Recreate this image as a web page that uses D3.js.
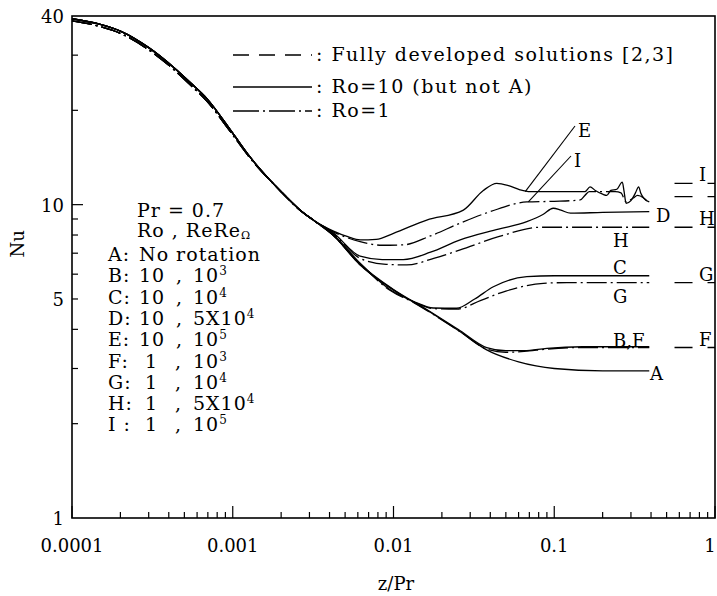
<!DOCTYPE html>
<html><head><meta charset="utf-8">
<script src="https://cdn.jsdelivr.net/npm/d3@7"></script>
<style>
body{margin:0;background:#fff}
text{font-family:"DejaVu Serif","Liberation Serif",serif;fill:#000}
</style></head>
<body><svg id="c" width="717" height="596"></svg>
<script>
// ---------- data ----------
const prefixZ  = [1e-4, 1.5e-4, 2e-4, 3e-4, 4.26e-4, 5.5e-4, 6.9e-4, 1e-3, 1.28e-3, 2e-3, 2.62e-3, 3.2e-3];
const prefixNuA = [39.2, 37.6, 35.8, 31.7, 27.5, 24.4, 21.8, 16.9, 14.2, 11.0, 9.62, 8.9];
const prefixNu  = [38.6, 37.0, 35.2, 31.2, 27.1, 24.0, 21.4, 16.7, 14.1, 11.0, 9.6, 8.9];

const zA  = [0.0042, 0.0062, 0.01, 0.0161, 0.026, 0.038, 0.06, 0.1, 0.2, 0.39];
const nuA = [8.0, 6.42, 5.34, 4.61, 3.93, 3.44, 3.15, 3.0, 2.95, 2.95];
const zB  = [0.0042, 0.0062, 0.01, 0.0161, 0.026, 0.038, 0.05, 0.065, 0.09, 0.15, 0.39];
const nuB = [8.0, 6.45, 5.36, 4.63, 3.96, 3.5, 3.42, 3.42, 3.48, 3.52, 3.52];
const zC  = [0.0042, 0.0062, 0.0095, 0.0135, 0.0177, 0.0247, 0.032, 0.0418, 0.0675, 0.1, 0.39];
const nuC = [8.05, 6.5, 5.36, 4.9, 4.68, 4.67, 5.0, 5.47, 5.89, 5.93, 5.93];
const zD  = [0.0042, 0.0062, 0.0085, 0.0115, 0.017, 0.026, 0.045, 0.0675, 0.085, 0.0986, 0.11, 0.1263, 0.2, 0.39];
const nuD = [8.15, 6.85, 6.68, 6.68, 7.05, 7.72, 8.35, 8.83, 9.3, 9.74, 9.6, 9.39, 9.45, 9.5];
const zE  = [0.0042, 0.0052, 0.0062, 0.0078, 0.01, 0.0161, 0.0272, 0.0362, 0.0439, 0.052, 0.0612, 0.0707, 0.1, 0.155, 0.167, 0.18, 0.2, 0.212, 0.225, 0.245, 0.265, 0.272, 0.28, 0.3, 0.32, 0.335, 0.345, 0.36, 0.39];
const nuE = [8.25, 7.9, 7.72, 7.75, 8.1, 8.93, 9.61, 11.1, 11.7, 11.5, 11.15, 11.0, 11.0, 11.0, 11.4, 11.1, 10.8, 10.7, 11.1, 11.2, 11.8, 11.0, 10.1, 10.3, 10.9, 11.4, 10.9, 10.5, 10.2];
const zF  = [0.0042, 0.0062, 0.01, 0.0161, 0.026, 0.038, 0.05, 0.065, 0.09, 0.15, 0.39];
const nuF = [8.0, 6.43, 5.34, 4.6, 3.93, 3.46, 3.38, 3.4, 3.46, 3.5, 3.5];
const zG  = [0.0042, 0.0062, 0.0095, 0.0135, 0.0177, 0.0247, 0.035, 0.05, 0.0855, 0.12, 0.39];
const nuG = [8.0, 6.48, 5.33, 4.88, 4.66, 4.64, 4.95, 5.3, 5.61, 5.64, 5.64];
const zH  = [0.0042, 0.0062, 0.009, 0.0121, 0.018, 0.026, 0.045, 0.0815, 0.39];
const nuH = [8.1, 6.74, 6.45, 6.42, 6.75, 7.17, 7.9, 8.47, 8.47];
const zI  = [0.0042, 0.0062, 0.0085, 0.0115, 0.017, 0.026, 0.04, 0.0675, 0.1, 0.145, 0.155, 0.165, 0.2, 0.24, 0.26, 0.28, 0.31, 0.33, 0.36, 0.39];
const nuI = [8.2, 7.62, 7.42, 7.44, 7.95, 8.73, 9.5, 10.2, 10.25, 10.35, 10.7, 11.0, 11.0, 11.0, 10.9, 10.2, 10.5, 10.7, 10.5, 10.1];

const fdNu     = [11.7, 10.6, 8.47, 5.64, 3.5];   // fully developed solutions
const fdLabels = ["I", "", "H", "G", "F"];

const xTickVals   = [1e-4, 1e-3, 1e-2, 1e-1, 1];
const xTickLabels = ["0.0001", "0.001", "0.01", "0.1", "1"];
const yTickVals   = [1, 5, 10, 40];
const yTickLabels = ["1", "5", "10", "40"];

const caseRows = [
  ["A:", "No rotation", "", ""],
  ["B:", "10", "10", "3"],
  ["C:", "10", "10", "4"],
  ["D:", "10", "5X10", "4"],
  ["E:", "10", "10", "5"],
  ["F:", "1", "10", "3"],
  ["G:", "1", "10", "4"],
  ["H:", "1", "5X10", "4"],
  ["I :", "1", "10", "5"]
];

// ---------- chart ----------
const svg = d3.select("#c");
const x = d3.scaleLog().domain([1e-4, 1]).range([72, 715]);
const y = d3.scaleLog().domain([1, 40]).range([518, 16]);

// frame
svg.append("rect").attr("x", x(1e-4)).attr("y", y(40))
  .attr("width", x(1) - x(1e-4)).attr("height", y(1) - y(40))
  .attr("fill", "none").attr("stroke", "#000").attr("stroke-width", 1.6);

// x ticks (inward)
const xMinor = [];
[1e-4, 1e-3, 1e-2, 1e-1].forEach(d => { for (let k = 2; k <= 9; k++) xMinor.push(d * k); });
svg.append("g").selectAll("line").data(xMinor).join("line")
  .attr("x1", d => x(d)).attr("x2", d => x(d))
  .attr("y1", y(1)).attr("y2", y(1) - 6).attr("stroke", "#000").attr("stroke-width", 1.2);
svg.append("g").selectAll("line").data(xTickVals).join("line")
  .attr("x1", d => x(d)).attr("x2", d => x(d))
  .attr("y1", y(1)).attr("y2", y(1) - 12).attr("stroke", "#000").attr("stroke-width", 1.2);
svg.append("g").selectAll("text").data(xTickVals).join("text")
  .attr("x", d => Math.min(x(d), 710)).attr("y", y(1) + 34).attr("text-anchor", "middle")
  .attr("font-size", 18).text((d, i) => xTickLabels[i]);

// y ticks (inward)
const yMinor = [2, 3, 4, 5, 6, 7, 8, 9, 20, 30];
svg.append("g").selectAll("line").data(yMinor).join("line")
  .attr("x1", x(1e-4)).attr("x2", x(1e-4) + 6)
  .attr("y1", d => y(d)).attr("y2", d => y(d)).attr("stroke", "#000").attr("stroke-width", 1.2);
svg.append("g").selectAll("line").data([10]).join("line")
  .attr("x1", x(1e-4)).attr("x2", x(1e-4) + 11)
  .attr("y1", d => y(d)).attr("y2", d => y(d)).attr("stroke", "#000").attr("stroke-width", 1.2);
svg.append("g").selectAll("text").data(yTickVals).join("text")
  .attr("x", x(1e-4) - 8).attr("y", d => y(d) + 7).attr("text-anchor", "end")
  .attr("font-size", 18).text((d, i) => yTickLabels[i]);

// axis titles
svg.append("text").attr("x", 396).attr("y", 590)
  .attr("text-anchor", "middle").attr("font-size", 18).text("z/Pr");
svg.append("text").attr("transform", `translate(24,${y(7.5)}) rotate(-90)`)
  .attr("text-anchor", "middle").attr("font-size", 18).text("Nu");

// curves
const line = d3.line().x(d => x(d[0])).y(d => y(d[1])).curve(d3.curveMonotoneX);
function series(pz, pn, z, n) {
  return pz.map((v, i) => [v, pn[i]]).concat(z.map((v, i) => [v, n[i]]));
}
const DASHDOT = "20,4,2,4";
const curves = [
  {pts: series(prefixZ, prefixNuA, zA, nuA), dash: null},
  {pts: series(prefixZ, prefixNuA, zB, nuB), dash: null},
  {pts: series(prefixZ, prefixNuA, zC, nuC), dash: null},
  {pts: series(prefixZ, prefixNuA, zD, nuD), dash: null},
  {pts: series(prefixZ, prefixNuA, zE, nuE), dash: null},
  {pts: series(prefixZ, prefixNu, zF, nuF), dash: DASHDOT},
  {pts: series(prefixZ, prefixNu, zG, nuG), dash: DASHDOT},
  {pts: series(prefixZ, prefixNu, zH, nuH), dash: DASHDOT},
  {pts: series(prefixZ, prefixNu, zI, nuI), dash: DASHDOT}
];
svg.append("g").selectAll("path").data(curves).join("path")
  .attr("d", d => line(d.pts)).attr("fill", "none").attr("stroke", "#000")
  .attr("stroke-width", 1.3).attr("stroke-dasharray", d => d.dash);

// fully developed dashes at right
svg.append("g").selectAll("line").data(fdNu).join("line")
  .attr("x1", x(0.56)).attr("x2", x(1)).attr("y1", d => y(d)).attr("y2", d => y(d))
  .attr("stroke", "#000").attr("stroke-width", 1.3).attr("stroke-dasharray", "18,15");
svg.append("g").selectAll("text").data(fdNu).join("text")
  .attr("x", 699).attr("y", d => y(d) - 2).attr("font-size", 18)
  .text((d, i) => fdLabels[i]);

// curve labels
const curveLabels = [
  ["E", 578, 137], ["I", 574, 167], ["D", 656, 222], ["H", 613, 247],
  ["C", 613, 274], ["G", 613, 303], ["B,F", 613, 347], ["A", 650, 380]
];
svg.append("g").selectAll("text").data(curveLabels).join("text")
  .attr("x", d => d[1]).attr("y", d => d[2]).attr("font-size", 18).text(d => d[0]);
// pointer lines for E and I
svg.append("line").attr("x1", 575).attr("y1", 126).attr("x2", x(0.066)).attr("y2", y(11.0))
  .attr("stroke", "#000").attr("stroke-width", 1.1);
svg.append("line").attr("x1", 571).attr("y1", 156).attr("x2", x(0.069)).attr("y2", y(10.2))
  .attr("stroke", "#000").attr("stroke-width", 1.1);

// top legend
const legY = [55, 87, 111];
const legDash = ["16,10", null, "26,4,2,4"];
const legText = [": Fully developed solutions [2,3]", ": Ro=10 (but not A)", ": Ro=1"];
svg.append("g").selectAll("line").data(legY).join("line")
  .attr("x1", 233).attr("x2", 312).attr("y1", d => d).attr("y2", d => d)
  .attr("stroke", "#000").attr("stroke-width", 1.3).attr("stroke-dasharray", (d, i) => legDash[i]);
svg.append("g").selectAll("text").data(legY).join("text")
  .attr("x", 316).attr("y", d => d + 6).attr("font-size", 19)
  .attr("letter-spacing", 1.5).text((d, i) => legText[i]);

// inner legend
const inner = svg.append("g").attr("font-size", 19).attr("letter-spacing", 1);
inner.append("text").attr("x", 137).attr("y", 217).text("Pr = 0.7");
const t2 = inner.append("text").attr("x", 137).attr("y", 237);
t2.append("tspan").text("Ro  , ReRe");
t2.append("tspan").attr("font-size", 11).attr("dy", 2).text("Ω");
caseRows.forEach((r, i) => {
  const yy = 261 + i * 21.3;
  inner.append("text").attr("x", 108).attr("y", yy).text(r[0]);
  inner.append("text").attr("x", r[1].length === 1 ? 145 : 139).attr("y", yy).text(r[1]);
  if (r[2]) {
    inner.append("text").attr("x", r[1].length === 1 ? 175 : 176).attr("y", yy).text(",");
    const t = inner.append("text").attr("x", 193).attr("y", yy);
    t.append("tspan").text(r[2]);
    t.append("tspan").attr("font-size", 12).attr("dy", -7).text(r[3]);
  }
});
</script></body></html>
